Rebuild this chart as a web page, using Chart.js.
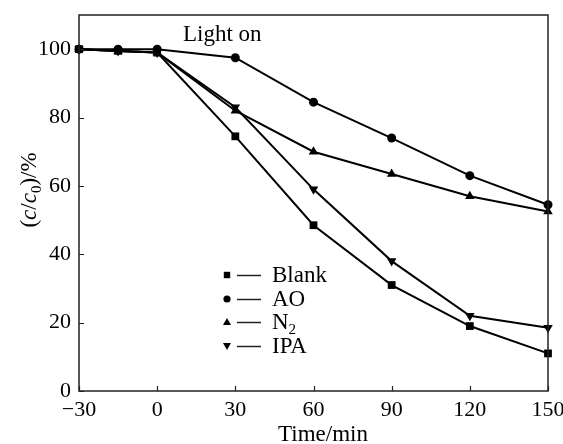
<!DOCTYPE html>
<html><head><meta charset="utf-8">
<script src="https://cdn.jsdelivr.net/npm/chart.js@4/dist/chart.umd.min.js"></script>
<style>html,body{margin:0;padding:0;background:#fff}#wrap{width:563px;height:444px}</style>
</head><body><div id="wrap"><canvas id="c" width="563" height="444"></canvas></div>
<script>
const times = [-30, -15, 0, 30, 60, 90, 120, 150];
const blank = [100, 99.5, 99, 74.5, 48.5, 31, 19, 11];
const ao    = [100, 100, 100, 97.5, 84.5, 74, 63, 54.5];
const n2    = [100, 99.5, 99, 82, 70, 63.5, 57, 52.5];
const ipa   = [100, 99.5, 99, 83, 59, 38, 22, 18.5];
const xTicks = [-30, 0, 30, 60, 90, 120, 150];
const yTicks = [0, 20, 40, 60, 80, 100];
const seriesNames = ['Blank', 'AO', 'N', 'IPA'];
const seriesSubs  = ['', '', '2', ''];
const xTitle = 'Time/min';
const annotation = 'Light on';

const SERIF = '"Liberation Serif", "Times New Roman", serif';
const styles = [
  {pointStyle: 'rect', radius: 5.5, rot: 0},
  {pointStyle: 'circle', radius: 4.5, rot: 0},
  {pointStyle: 'triangle', radius: 5.5, rot: 0},
  {pointStyle: 'triangle', radius: 5.5, rot: 180}
];
const seriesVals = [blank, ao, n2, ipa];

const datasets = seriesVals.map((vals, i) => ({
  label: seriesNames[i] + seriesSubs[i],
  data: times.map((t, j) => ({x: t, y: vals[j]})),
  borderColor: '#000',
  backgroundColor: '#000',
  borderWidth: 2,
  pointStyle: styles[i].pointStyle,
  pointRadius: styles[i].radius,
  pointRotation: styles[i].rot,
  pointBackgroundColor: '#000',
  pointBorderColor: '#000',
  pointBorderWidth: 0,
  tension: 0,
  clip: false
}));

const decor = {
  id: 'decor',
  afterDraw(chart) {
    const ctx = chart.ctx;
    const a = chart.chartArea;
    const xs = chart.scales.x, ys = chart.scales.y;
    ctx.save();
    // box
    ctx.strokeStyle = '#222';
    ctx.lineWidth = 1.5;
    ctx.strokeRect(a.left, a.top, a.right - a.left, a.bottom - a.top);
    // inward ticks
    ctx.lineWidth = 1.2;
    ctx.beginPath();
    xTicks.forEach(v => {
      const px = Math.round(xs.getPixelForValue(v)) + 0.5;
      ctx.moveTo(px, a.bottom); ctx.lineTo(px, a.bottom - 5);
    });
    yTicks.forEach(v => {
      const py = Math.round(ys.getPixelForValue(v)) + 0.5;
      ctx.moveTo(a.left, py); ctx.lineTo(a.left + 5, py);
    });
    ctx.stroke();

    ctx.fillStyle = '#000';
    // annotation
    ctx.font = '23px ' + SERIF;
    ctx.textAlign = 'left';
    ctx.textBaseline = 'alphabetic';
    ctx.fillText(annotation, 183, 41);

    // x title
    ctx.textAlign = 'center';
    ctx.fillText(xTitle, 323, 441);

    // y title (rotated, rich)
    const parts = [
      {t: '(', f: '23px ' + SERIF, dy: 0},
      {t: 'c', f: 'italic 23px ' + SERIF, dy: 0},
      {t: '/', f: '23px ' + SERIF, dy: 0},
      {t: 'c', f: 'italic 23px ' + SERIF, dy: 0},
      {t: '0', f: '15px ' + SERIF, dy: 5},
      {t: ')/%', f: '23px ' + SERIF, dy: 0}
    ];
    let total = 0;
    parts.forEach(p => { ctx.font = p.f; p.w = ctx.measureText(p.t).width; total += p.w; });
    ctx.save();
    ctx.translate(36, 190);
    ctx.rotate(-Math.PI / 2);
    ctx.textAlign = 'left';
    let cx = -total / 2;
    parts.forEach(p => { ctx.font = p.f; ctx.fillText(p.t, cx, p.dy); cx += p.w; });
    ctx.restore();

    // legend
    const rows = [275, 299, 322, 346];
    seriesNames.forEach((name, i) => {
      const y = rows[i];
      const mx = 227;
      ctx.beginPath();
      if (i === 0) { ctx.rect(mx - 3.2, y - 3.2, 6.4, 6.4); }
      else if (i === 1) { ctx.arc(mx, y, 3.6, 0, Math.PI * 2); }
      else if (i === 2) { ctx.moveTo(mx, y - 4); ctx.lineTo(mx + 4, y + 3); ctx.lineTo(mx - 4, y + 3); ctx.closePath(); }
      else { ctx.moveTo(mx, y + 4); ctx.lineTo(mx + 4, y - 3); ctx.lineTo(mx - 4, y - 3); ctx.closePath(); }
      ctx.fill();
      ctx.lineWidth = 1.5;
      ctx.beginPath();
      ctx.moveTo(237, y + 0.5); ctx.lineTo(261, y + 0.5);
      ctx.stroke();
      ctx.font = '23px ' + SERIF;
      ctx.textAlign = 'left';
      ctx.textBaseline = 'middle';
      ctx.fillText(name, 272, y + 1);
      if (seriesSubs[i]) {
        const w = ctx.measureText(name).width;
        ctx.font = '15px ' + SERIF;
        ctx.fillText(seriesSubs[i], 272 + w, y + 8);
      }
    });
    ctx.restore();
  }
};

new Chart(document.getElementById('c'), {
  type: 'line',
  data: {datasets},
  options: {
    responsive: false,
    devicePixelRatio: 1,
    animation: false,
    layout: {padding: {left: 0, top: 15, right: 15, bottom: 0}},
    plugins: {legend: {display: false}, tooltip: {enabled: false}},
    scales: {
      x: {
        type: 'linear', min: -30, max: 150,
        grid: {display: false, drawTicks: false},
        border: {display: false},
        afterBuildTicks: s => { s.ticks = xTicks.map(v => ({value: v})); },
        afterFit: s => { s.height = 53; s.paddingLeft = 0; s.paddingRight = 0; },
        ticks: {
          padding: 6, color: '#000', maxRotation: 0, autoSkip: false,
          font: {family: SERIF, size: 22},
          callback: v => String(v).replace('-', '\u2212')
        }
      },
      y: {
        type: 'linear', min: 0, max: 110,
        grid: {display: false, drawTicks: false},
        border: {display: false},
        afterBuildTicks: s => { s.ticks = yTicks.map(v => ({value: v})); },
        afterFit: s => { s.width = 79; s.paddingTop = 0; s.paddingBottom = 0; },
        ticks: {
          padding: 8, color: '#000', autoSkip: false,
          font: {family: SERIF, size: 22}
        }
      }
    }
  },
  plugins: [decor]
});
</script>
</body></html>
